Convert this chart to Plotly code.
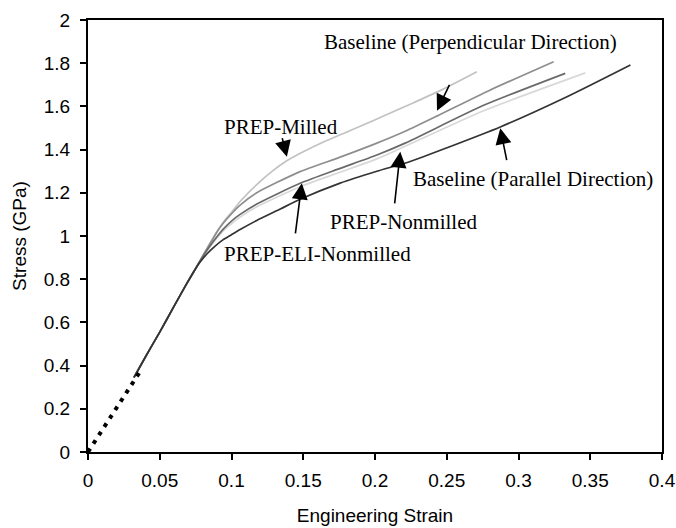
import plotly.graph_objects as go

# Common elastic segment (all curves overlap here)
elastic_x = [0.032, 0.040, 0.050, 0.060, 0.068, 0.074]
elastic_s = [0.345, 0.440, 0.555, 0.675, 0.770, 0.838]

par_x = [0.078, 0.083, 0.088, 0.094, 0.100, 0.106, 0.1176, 0.134, 0.1478, 0.1757, 0.2013, 0.2245, 0.2507, 0.2873, 0.3338, 0.378]
par_s = [0.878, 0.918, 0.950, 0.982, 1.006, 1.030, 1.072, 1.125, 1.170, 1.245, 1.300, 1.345, 1.410, 1.505, 1.645, 1.792]

eli_x = [0.078, 0.082, 0.086, 0.090, 0.0944, 0.101, 0.106, 0.1176, 0.1478, 0.1757, 0.2013, 0.221, 0.2757, 0.3326]
eli_s = [0.883, 0.925, 0.963, 0.998, 1.033, 1.075, 1.100, 1.148, 1.244, 1.313, 1.375, 1.430, 1.605, 1.753]

non_x = [0.078, 0.082, 0.086, 0.090, 0.0944, 0.101, 0.106, 0.1176, 0.1478, 0.1757, 0.2013, 0.2176, 0.2757, 0.3466]
non_s = [0.882, 0.922, 0.958, 0.992, 1.025, 1.062, 1.088, 1.135, 1.228, 1.295, 1.357, 1.405, 1.580, 1.755]

perp_x = [0.078, 0.082, 0.086, 0.090, 0.0944, 0.101, 0.106, 0.1176, 0.1478, 0.1757, 0.2013, 0.221, 0.2431, 0.280, 0.3245]
perp_s = [0.885, 0.930, 0.975, 1.020, 1.060, 1.110, 1.143, 1.200, 1.298, 1.365, 1.430, 1.485, 1.555, 1.675, 1.807]

mil_x = [0.078, 0.082, 0.086, 0.090, 0.0944, 0.101, 0.106, 0.1176, 0.128, 0.1385, 0.150, 0.1641, 0.180, 0.199, 0.2245, 0.2476, 0.271]
mil_s = [0.885, 0.932, 0.978, 1.022, 1.065, 1.118, 1.160, 1.238, 1.298, 1.348, 1.390, 1.435, 1.480, 1.535, 1.610, 1.680, 1.760]

dot_x = [0.0, 0.037]
dot_s = [0.0, 0.38]

x_ticks = [0, 0.05, 0.1, 0.15, 0.2, 0.25, 0.3, 0.35, 0.4]
x_labels = ["0", "0.05", "0.1", "0.15", "0.2", "0.25", "0.3", "0.35", "0.4"]
y_ticks = [0, 0.2, 0.4, 0.6, 0.8, 1.0, 1.2, 1.4, 1.6, 1.8, 2.0]
y_labels = ["0", "0.2", "0.4", "0.6", "0.8", "1", "1.2", "1.4", "1.6", "1.8", "2"]

series = [
    ("PREP-Nonmilled", non_x, non_s, "#d8d8d8"),
    ("PREP-Milled", mil_x, mil_s, "#c2c2c2"),
    ("Baseline (Perpendicular Direction)", perp_x, perp_s, "#8e8e8e"),
    ("PREP-ELI-Nonmilled", eli_x, eli_s, "#6a6a6a"),
    ("Baseline (Parallel Direction)", par_x, par_s, "#333333"),
]

fig = go.Figure()
for name, xs, ss, col in series:
    fig.add_trace(go.Scatter(
        x=elastic_x + xs, y=elastic_s + ss, name=name, mode="lines",
        line=dict(color=col, width=1.7, shape="spline", smoothing=0.6),
    ))

fig.add_trace(go.Scatter(
    x=dot_x, y=dot_s, mode="lines", name="elastic",
    line=dict(color="black", width=4, dash="4px,6px"),
))

serif = dict(family="Liberation Serif, Times New Roman, serif", size=21, color="black")

labels = [
    ("Baseline (Perpendicular Direction)", 0.2664, 1.898),
    ("PREP-Milled", 0.1342, 1.505),
    ("Baseline (Parallel Direction)", 0.3103, 1.262),
    ("PREP-Nonmilled", 0.2204, 1.067),
    ("PREP-ELI-Nonmilled", 0.160, 0.915),
]
for txt, xx, yy in labels:
    fig.add_annotation(x=xx, y=yy, text=txt, showarrow=False, font=serif,
                       xanchor="center", yanchor="middle")

arrows = [
    (0.2524, 1.707, 0.2432, 1.580),
    (0.1351, 1.460, 0.1386, 1.367),
    (0.1444, 1.005, 0.1490, 1.244),
    (0.2136, 1.144, 0.2176, 1.390),
    (0.2920, 1.344, 0.2873, 1.499),
]
for tx, ty, hx, hy in arrows:
    fig.add_annotation(x=hx, y=hy, ax=tx, ay=ty, axref="x", ayref="y",
                       text="", showarrow=True, arrowhead=2, arrowsize=2.0,
                       arrowwidth=1.6, arrowcolor="black", standoff=0)

axis_font = dict(family="Liberation Sans, Arial, sans-serif", size=19, color="black")

fig.update_layout(
    width=676, height=528,
    margin=dict(l=88, r=14, t=20, b=76),
    paper_bgcolor="white", plot_bgcolor="white",
    showlegend=False,
    font=axis_font,
)
fig.update_xaxes(
    range=[0, 0.4], tickvals=x_ticks, ticktext=x_labels, automargin=False,
    showgrid=False, zeroline=False, showline=True, linecolor="black", linewidth=2,
    mirror=True, ticks="outside", ticklen=6, tickwidth=1.5, tickcolor="black",
    tickfont=axis_font, ticklabelstandoff=4,
    title=dict(text="Engineering Strain", font=dict(family="Liberation Sans, Arial, sans-serif", size=19), standoff=19),
)
fig.update_yaxes(
    range=[0, 2], tickvals=y_ticks, ticktext=y_labels, automargin=False,
    showgrid=False, zeroline=False, showline=True, linecolor="black", linewidth=2,
    mirror=True, ticks="outside", ticklen=6, tickwidth=1.5, tickcolor="black",
    tickfont=axis_font, ticklabelstandoff=6,
    title=dict(text="Stress (GPa)", font=dict(family="Liberation Sans, Arial, sans-serif", size=19), standoff=12),
)

fig.write_html("out.html")
